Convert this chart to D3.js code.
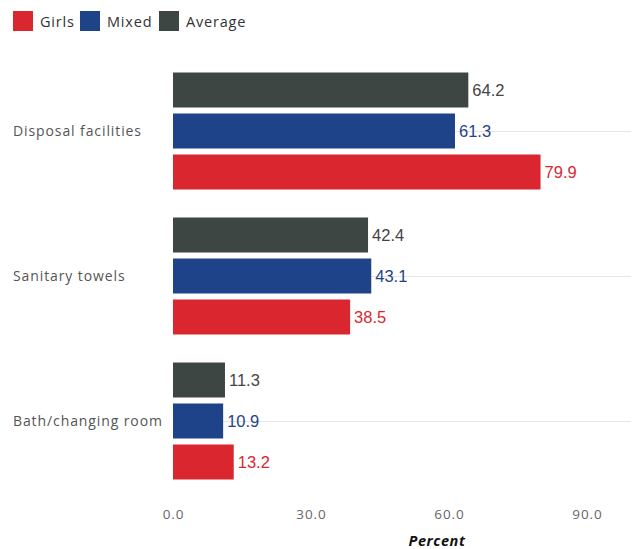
<!DOCTYPE html>
<html>
<head>
<meta charset="utf-8">
<script src="https://cdn.jsdelivr.net/npm/d3@7"></script>
<style>
  body { margin: 0; background: #fff; }
  svg { display: block; }
</style>
</head>
<body>
<svg id="chart" width="635" height="549"></svg>
<script>
// Facilities available in schools, by school type (percent)
const categories = ["Disposal facilities", "Sanitary towels", "Bath/changing room"];
const seriesNames = ["Girls", "Mixed", "Average"];
const girls   = [79.9, 38.5, 13.2];
const mixed   = [61.3, 43.1, 10.9];
const average = [64.2, 42.4, 11.3];
const xTicks  = [0, 30, 60, 90];

const colors = { Girls: "#da272f", Mixed: "#1f4389", Average: "#3e4644" };
const labelColors = { Girls: "#da272f", Mixed: "#1f4389", Average: "#444444" };
const valuesBySeries = { Girls: girls, Mixed: mixed, Average: average };

const svg = d3.select("#chart");
const labelFont = "'Open Sans', 'Noto Sans', sans-serif";
const valueFont = "'Liberation Sans', Arial, sans-serif";

const plotLeft = 173, plotRight = 631;
const x = d3.scaleLinear().domain([0, 90]).range([plotLeft, 587]);

const y0 = d3.scaleBand().domain(categories).range([58.5, 493.5]).paddingInner(0).paddingOuter(0);
const barOrder = ["Average", "Mixed", "Girls"];
const y1 = d3.scaleBand().domain(barOrder).range([14, 131]).paddingInner(6 / 41).paddingOuter(0);

// Legend
const legend = svg.append("g");
const legendX = { Girls: 13, Mixed: 80, Average: 159 };
seriesNames.forEach(name => {
  const g = legend.append("g").attr("transform", `translate(${legendX[name]},11)`);
  g.append("rect").attr("width", 20).attr("height", 20).attr("fill", colors[name]);
  g.append("text").attr("x", 27).attr("y", 15.5)
    .attr("font-family", labelFont).attr("font-size", 14.5).attr("letter-spacing", 0.8)
    .attr("fill", "#333")
    .text(name);
});

// Category gridlines
svg.append("g").selectAll("line").data(categories).join("line")
  .attr("x1", plotLeft).attr("x2", plotRight)
  .attr("y1", d => y0(d) + y0.bandwidth() / 2 + 0.5)
  .attr("y2", d => y0(d) + y0.bandwidth() / 2 + 0.5)
  .attr("stroke", "#e6e6e6").attr("stroke-width", 1);

// Category labels
svg.append("g").selectAll("text").data(categories).join("text")
  .attr("x", 13).attr("y", d => y0(d) + y0.bandwidth() / 2 + 5)
  .attr("font-family", labelFont).attr("font-size", 14).attr("letter-spacing", 0.9)
  .attr("fill", "#555")
  .text(d => d);

// Bars
const rows = [];
categories.forEach((c, i) => barOrder.forEach(s => rows.push({ cat: c, series: s, value: valuesBySeries[s][i] })));

const groups = svg.append("g");
groups.selectAll("rect").data(rows).join("rect")
  .attr("x", x(0))
  .attr("y", d => y0(d.cat) + y1(d.series))
  .attr("width", d => x(d.value) - x(0))
  .attr("height", y1.bandwidth())
  .attr("fill", d => colors[d.series]);

groups.selectAll("text").data(rows).join("text")
  .attr("x", d => x(d.value) + 4)
  .attr("y", d => y0(d.cat) + y1(d.series) + y1.bandwidth() / 2 + 6)
  .attr("font-family", valueFont).attr("font-size", 16.5)
  .attr("fill", d => labelColors[d.series])
  .text(d => d.value.toFixed(1));

// X axis
const xAxis = d3.axisBottom(x).tickValues(xTicks).tickFormat(d3.format(".1f")).tickSize(0).tickPadding(0);
const axisG = svg.append("g").attr("transform", "translate(0,509)").call(xAxis);
axisG.select(".domain").remove();
axisG.selectAll("text")
  .attr("font-family", labelFont).attr("font-size", 13.5).attr("letter-spacing", 0.9)
  .attr("fill", "#666");

svg.append("text")
  .attr("x", 437).attr("y", 546)
  .attr("text-anchor", "middle")
  .attr("font-family", labelFont).attr("font-size", 14.5).attr("letter-spacing", 0.6)
  .attr("font-weight", "bold").attr("font-style", "italic").attr("fill", "#111")
  .text("Percent");
</script>
</body>
</html>
